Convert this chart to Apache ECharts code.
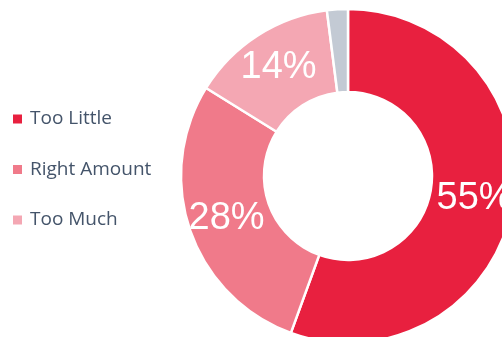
<!DOCTYPE html>
<html>
<head>
<meta charset="utf-8">
<script src="https://cdn.jsdelivr.net/npm/echarts@6/dist/echarts.min.js"></script>
<style>
  html, body { margin: 0; padding: 0; background: #ffffff; }
  #chart { width: 502px; height: 337px; }
</style>
</head>
<body>
<div id="chart"></div>
<script>
// Survey answer shares (percent)
const categories = ['Too Little', 'Right Amount', 'Too Much', 'No Answer'];
const shares = [55, 28, 14, 2];
const legendNames = ['Too Little', 'Right Amount', 'Too Much'];
const sliceColors = ['#E8203F', '#F07A8A', '#F4A7B3', '#C3CAD4'];

const pieData = categories.map((name, i) => ({
  name: name,
  value: shares[i],
  itemStyle: { color: sliceColors[i] },
  label: { show: i < 3 }
}));

const chart = echarts.init(document.getElementById('chart'), null, { renderer: 'canvas' });
chart.setOption({
  animation: false,
  backgroundColor: '#ffffff',
  legend: {
    data: legendNames,
    orient: 'vertical',
    left: 8,
    top: 103,
    icon: 'rect',
    itemWidth: 9,
    itemHeight: 9,
    itemGap: 28.5,
    selectedMode: false,
    itemStyle: { borderWidth: 0 },
    textStyle: {
      color: '#44546A',
      fontFamily: 'Open Sans',
      fontSize: 19,
      lineHeight: 22,
      padding: [0, 0, 0, 3]
    }
  },
  series: [{
    type: 'pie',
    center: [348, 176],
    radius: [84, 167],
    startAngle: 90,
    clockwise: true,
    avoidLabelOverlap: false,
    silent: true,
    itemStyle: { borderColor: '#ffffff', borderWidth: 2.5 },
    label: {
      position: 'inside',
      formatter: '{c}%',
      color: '#ffffff',
      fontFamily: 'Liberation Sans',
      fontSize: 38,
      textBorderWidth: 0
    },
    labelLine: { show: false },
    emphasis: { disabled: true },
    data: pieData
  }]
});
</script>
</body>
</html>
